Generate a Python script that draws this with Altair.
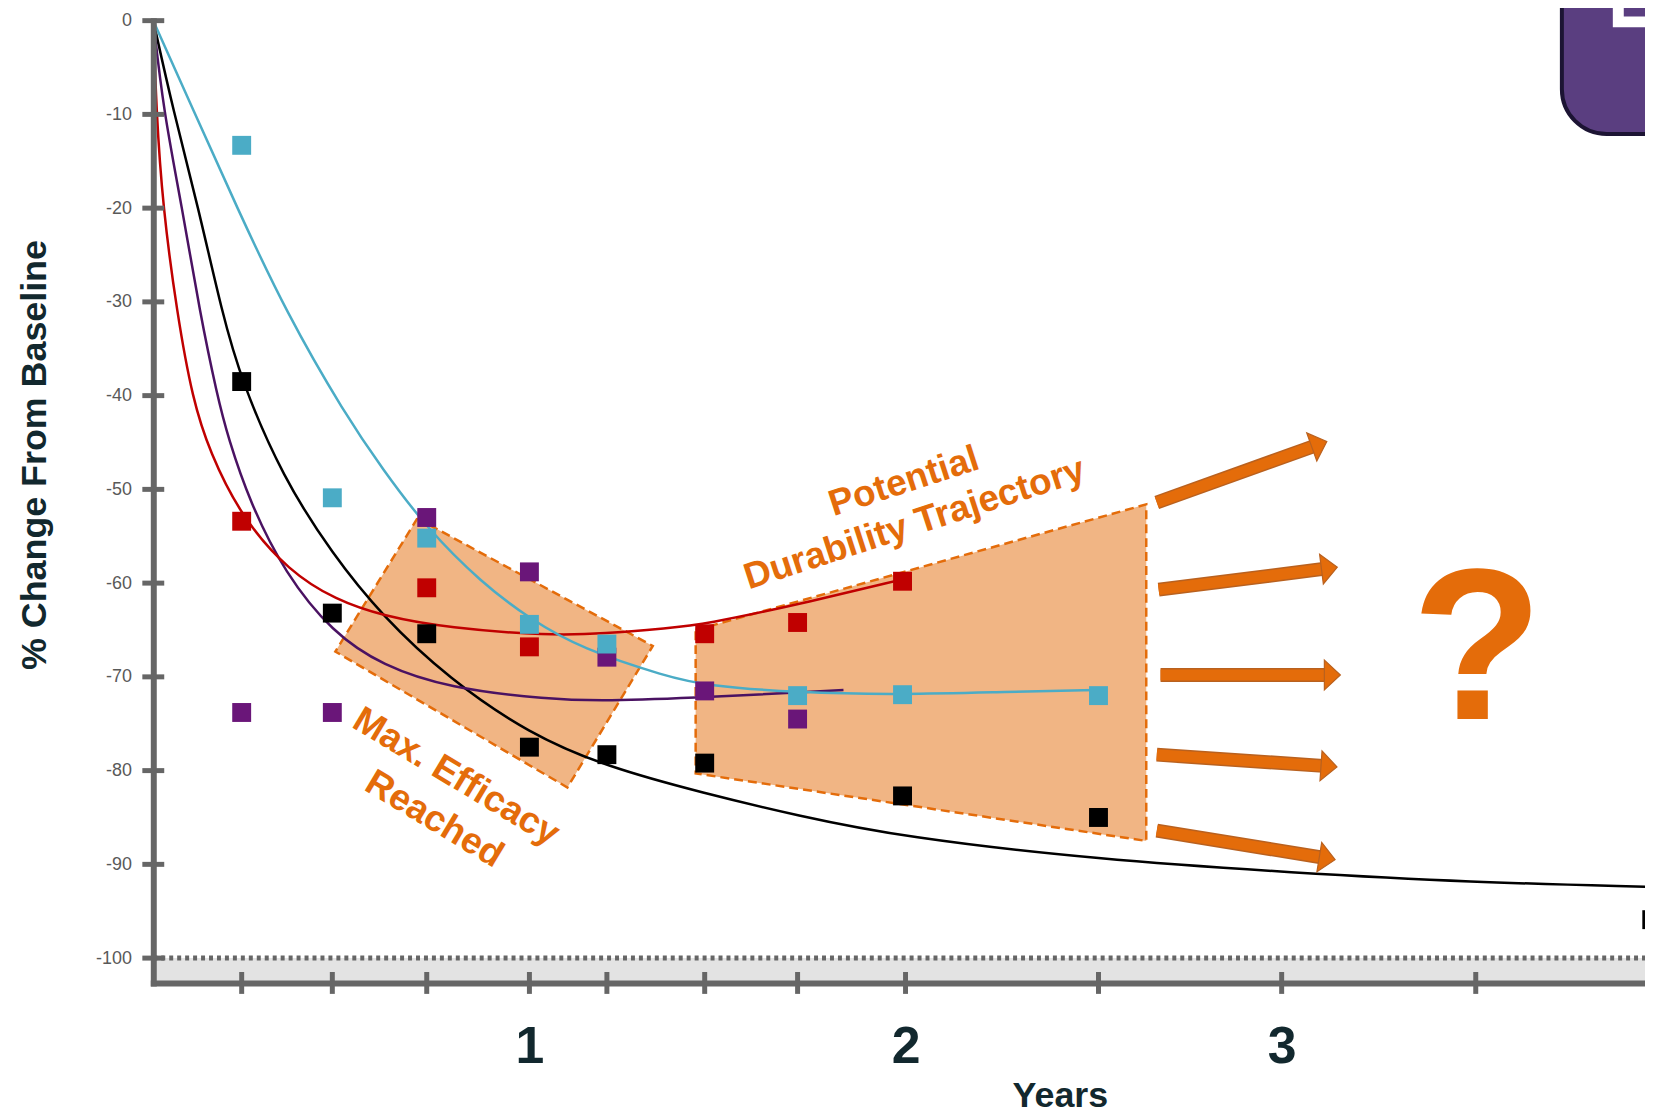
import math
import altair as alt
import pandas as pd

# ---------------- values ----------------
# observed visits (years, % change from baseline)
teal_x = [0.235, 0.476, 0.727, 1.0, 1.206, 1.713, 1.992, 2.513]
teal_y = [-13.3, -50.9, -55.2, -64.4, -66.5, -72.0, -71.9, -72.0]
black_x = [0.235, 0.476, 0.727, 1.0, 1.206, 1.466, 1.992, 2.513, 3.984]
black_y = [-38.5, -63.2, -65.4, -77.5, -78.3, -79.2, -82.7, -85.0, -95.9]
red_x = [0.235, 0.727, 1.0, 1.466, 1.713, 1.992]
red_y = [-53.4, -60.5, -66.8, -65.4, -64.2, -59.8]
purple_x = [0.235, 0.476, 0.727, 1.0, 1.206, 1.466, 1.713]
purple_y = [-73.8, -73.8, -53.0, -58.8, -67.9, -71.5, -74.5]

# trend curves
teal_cx = [0, 0.107, 0.221, 0.354, 0.51, 0.609, 0.728, 0.874, 1.0, 1.138, 1.368, 1.466, 1.712, 1.992, 2.269, 2.513]
teal_cy = [0, -9.6, -19.8, -31.2, -42.0, -47.8, -54.2, -60.0, -63.8, -67.0, -70.0, -70.9, -71.7, -71.9, -71.6, -71.4]
red_cx = [0, 0.008, 0.025, 0.063, 0.105, 0.15, 0.233, 0.362, 0.486, 0.609, 0.786, 1.05, 1.2, 1.368, 1.466, 1.712, 1.992]
red_cy = [0, -9.6, -19.8, -31.2, -40.5, -46.0, -52.9, -58.8, -61.8, -63.5, -64.8, -65.6, -65.4, -64.8, -64.4, -62.3, -59.6]
purple_cx = [0, 0.027, 0.076, 0.124, 0.17, 0.199, 0.257, 0.349, 0.477, 0.609, 0.786, 1.05, 1.2, 1.466, 1.835]
purple_cy = [0, -9.6, -19.8, -31.2, -40.0, -44.5, -51.4, -58.9, -65.3, -68.8, -71.2, -72.4, -72.6, -72.2, -71.4]
black_cx = [0, 0.053, 0.119, 0.183, 0.235, 0.344, 0.476, 0.608, 0.786, 1.0, 1.206, 1.463, 1.712, 1.992, 2.513, 3.034, 3.503, 3.968]
black_cy = [0, -9.6, -19.8, -31.2, -38.5, -48.7, -56.9, -63.5, -70.2, -76.1, -79.6, -82.4, -84.8, -87.1, -89.5, -90.9, -91.9, -92.4]

# annotation shapes
efficacy_box_x = [0.702, 1.328, 1.101, 0.484, 0.702]
efficacy_box_y = [-53.1, -66.7, -81.8, -67.3, -53.1]
durability_x = [1.442, 2.640, 2.640, 1.442, 1.442]
durability_y = [-65.0, -51.6, -87.5, -80.3, -65.0]

arrow_tail_x = [2.668, 2.673, 2.678, 2.668, 2.668]
arrow_tail_y = [-51.4, -60.7, -69.8, -78.3, -86.4]
arrow_tip_x = [3.120, 3.148, 3.156, 3.147, 3.142]
arrow_tip_y = [-44.9, -58.3, -69.8, -79.6, -89.5]

durability_text = ["Potential", "Durability Trajectory"]
durability_text_x = [1.996, 2.024]
durability_text_y = [-49.2, -53.7]
efficacy_text = ["Max. Efficacy", "Reached"]
efficacy_text_x = [0.805, 0.747]
efficacy_text_y = [-80.7, -85.2]
question_x = [3.52]
question_y = [-74.5]

x_tick_values = [0.235, 0.476, 0.727, 1.0, 1.206, 1.466, 1.713, 2.0, 2.513, 3.0, 3.516]
x_label_values = [1, 2, 3]
y_tick_values = [0, -10, -20, -30, -40, -50, -60, -70, -80, -90, -100]

# ---------------- styling ----------------
FONT = "Liberation Sans"
ORANGE = "#E46C0A"
ORANGE_EDGE = "#B9611F"
GREY = "#666666"
DARK = "#12282E"
TEAL = "#4BACC6"
RED = "#C00000"
PURPLE_PT = "#6A1679"
PURPLE_LN = "#4A1262"

W, H = 1499, 967
XMAX = 3.966
YMIN = -102.65
PX_X = W / XMAX
PX_Y = H / (0 - YMIN)

xs = alt.Scale(domain=[0, XMAX], nice=False, zero=False)
ys = alt.Scale(domain=[YMIN, 0], nice=False, zero=False)

x_axis = alt.Axis(
    values=x_label_values, title="Years", grid=False, ticks=False,
    domainColor=GREY, domainWidth=6, domainCap="square",
    labelFont=FONT, labelFontSize=52, labelFontWeight="bold", labelColor=DARK,
    labelPadding=39, labelFlush=False, labelOverlap=False,
    titleFont=FONT, titleFontSize=36, titleFontWeight="bold", titleColor=DARK,
    titleX=911, titleY=124, titleAlign="center", titleBaseline="alphabetic",
    zindex=1,
)
y_axis = alt.Axis(
    values=y_tick_values, title="% Change From Baseline", grid=False, ticks=False,
    domainColor=GREY, domainWidth=6, domainCap="square",
    labelFont=FONT, labelFontSize=18, labelColor="#595959", labelPadding=22,
    labelFlush=False, labelOverlap=False, labelExpr="'' + datum.value",
    titleFont=FONT, titleFontSize=36, titleFontWeight="bold", titleColor=DARK,
    titleAngle=270, titleX=-119, titleY=436, titleAlign="center", titleBaseline="middle",
    zindex=1,
)


def X(f):
    return alt.X(f, type="quantitative", scale=xs, axis=x_axis)


def Y(f):
    return alt.Y(f, type="quantitative", scale=ys, axis=y_axis)


# ---------------- layers ----------------
band_df = pd.DataFrame({"x0": [0], "x1": [XMAX], "y0": [YMIN], "y1": [-100]})
band = alt.Chart(band_df).mark_rect(fill="#E3E3E3").encode(
    x=X("x0"), x2="x1:Q", y=Y("y0"), y2="y1:Q"
)
floor_line = alt.Chart(pd.DataFrame({"x0": [0], "x1": [XMAX], "y": [-100]})).mark_rule(
    color=GREY, strokeWidth=5, strokeDash=[4, 4]
).encode(x=X("x0"), x2="x1:Q", y=Y("y"))

poly_rows = []
for name, px, py in [("eff", efficacy_box_x, efficacy_box_y), ("dur", durability_x, durability_y)]:
    for i, (a, b) in enumerate(zip(px, py)):
        poly_rows.append({"shape": name, "i": i, "x": a, "y": b})
polys = alt.Chart(pd.DataFrame(poly_rows)).mark_line(
    fill=ORANGE, fillOpacity=0.5, stroke=ORANGE, strokeWidth=2.5, strokeDash=[9, 5]
).encode(x=X("x"), y=Y("y"), detail="shape:N", order="i:Q")

curve_rows = []
for name, col, cx, cy in [("black", "#000000", black_cx, black_cy), ("purple", PURPLE_LN, purple_cx, purple_cy),
                          ("red", RED, red_cx, red_cy), ("teal", TEAL, teal_cx, teal_cy)]:
    for a, b in zip(cx, cy):
        curve_rows.append({"s": name, "c": col, "x": a, "y": b})
curves = alt.Chart(pd.DataFrame(curve_rows)).mark_line(strokeWidth=2.5, interpolate="basis").encode(
    x=X("x"), y=Y("y"), detail="s:N", color=alt.Color("c:N", scale=None)
)

pt_rows = []
for col, px, py in [(PURPLE_PT, purple_x, purple_y), ("#000000", black_x, black_y),
                    (RED, red_x, red_y), (TEAL, teal_x, teal_y)]:
    for a, b in zip(px, py):
        pt_rows.append({"c": col, "x": a, "y": b})
pts_df = pd.DataFrame(pt_rows)
pts_df["o"] = range(len(pts_df))
points = alt.Chart(pts_df).mark_square(size=361, opacity=1).encode(
    x=X("x"), y=Y("y"), color=alt.Color("c:N", scale=None), order="o:Q"
)

# arrows
HEAD = 14
arr = pd.DataFrame({"tx": arrow_tail_x, "ty": arrow_tail_y, "hx": arrow_tip_x, "hy": arrow_tip_y})
ex, ey, ang = [], [], []
for r in arr.itertuples():
    sx = (r.hx - r.tx) * PX_X
    sy = -(r.hy - r.ty) * PX_Y
    L = math.hypot(sx, sy)
    ex.append(r.hx - sx / L * HEAD / PX_X)
    ey.append(r.hy + sy / L * HEAD / PX_Y)
    ang.append(math.degrees(math.atan2(sy, sx)) % 360)
arr["ex"], arr["ey"], arr["ang"] = ex, ey, ang
shaft_edge = alt.Chart(arr).mark_rule(color=ORANGE_EDGE, strokeWidth=14, strokeCap="butt").encode(
    x=X("tx"), y=Y("ty"), x2="ex:Q", y2="ey:Q")
shaft = alt.Chart(arr).mark_rule(color=ORANGE, strokeWidth=11, strokeCap="butt").encode(
    x=X("tx"), y=Y("ty"), x2="ex:Q", y2="ey:Q")
heads = alt.Chart(arr).mark_point(
    shape="M 0 0 L -1.07 -1 L -1.07 1 Z", filled=True, size=900, fill=ORANGE,
    stroke=ORANGE_EDGE, strokeWidth=1.2, opacity=1
).encode(x=X("hx"), y=Y("hy"), angle=alt.Angle("ang:Q", scale=None))

dur_txt = alt.Chart(pd.DataFrame({"t": durability_text, "x": durability_text_x, "y": durability_text_y})).mark_text(
    font=FONT, fontSize=37, fontWeight="bold", color=ORANGE, angle=342, align="center", baseline="middle"
).encode(x=X("x"), y=Y("y"), text="t:N")
eff_txt = alt.Chart(pd.DataFrame({"t": efficacy_text, "x": efficacy_text_x, "y": efficacy_text_y})).mark_text(
    font=FONT, fontSize=37, fontWeight="bold", color=ORANGE, angle=31, align="center", baseline="middle"
).encode(x=X("x"), y=Y("y"), text="t:N")
q_txt = alt.Chart(pd.DataFrame({"t": ["?"], "x": question_x, "y": question_y})).mark_text(
    font=FONT, fontSize=216, fontWeight="bold", color=ORANGE, align="center", baseline="alphabetic"
).encode(x=X("x"), y=Y("y"), text="t:N")

xticks = alt.Chart(pd.DataFrame({"x": x_tick_values, "y": [YMIN] * len(x_tick_values)})).mark_tick(
    orient="vertical", size=22, thickness=5, color=GREY, opacity=1
).encode(x=X("x"), y=Y("y"))
yticks = alt.Chart(pd.DataFrame({"x": [0] * len(y_tick_values), "y": y_tick_values})).mark_tick(
    orient="horizontal", size=22, thickness=5, color=GREY, opacity=1
).encode(x=X("x"), y=Y("y"))

# corner of the slide's purple badge
badge = alt.Chart(pd.DataFrame({"x0": [3.745], "x1": [4.4], "y0": [6], "y1": [-12.1]})).mark_rect(
    cornerRadius=45, fill="#5A3E80", stroke="#1C1433", strokeWidth=4
).encode(x=X("x0"), x2="x1:Q", y=Y("y0"), y2="y1:Q")
badge_icon = alt.Chart(pd.DataFrame({"x0": [3.895], "x1": [4.5], "y0": [5], "y1": [-0.13]})).mark_rect(
    fillOpacity=0, stroke="white", strokeWidth=11
).encode(x=X("x0"), x2="x1:Q", y=Y("y0"), y2="y1:Q")

chart = alt.layer(
    band, floor_line, polys, curves, points, shaft_edge, shaft, heads,
    dur_txt, eff_txt, q_txt, xticks, yticks, badge, badge_icon
).properties(
    width=W, height=H,
    autosize=alt.AutoSizeParams(type="none"),
    padding={"left": 146, "top": 10, "right": 0, "bottom": 130},
    background="white",
).configure_view(stroke=None)

chart.save("out.html", embed_options={"renderer": "svg", "actions": False})
